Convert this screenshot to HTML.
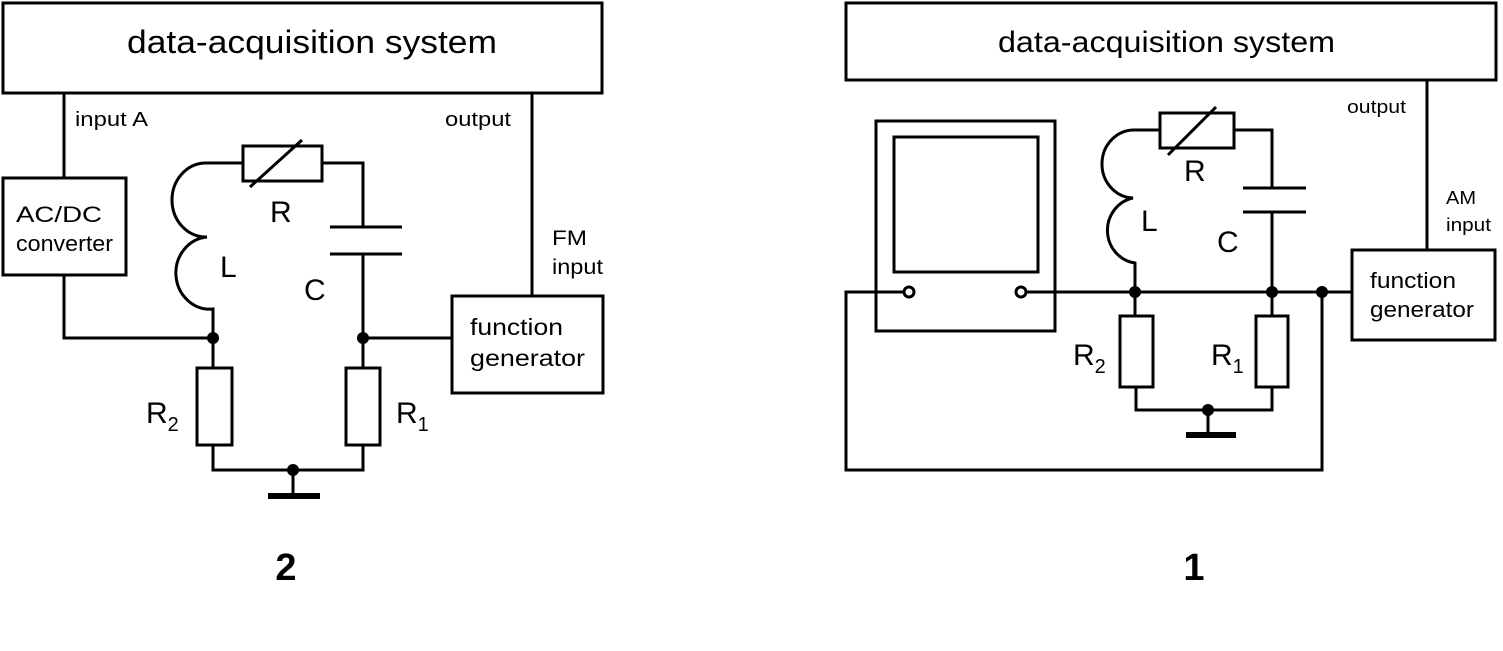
<!DOCTYPE html>
<html><head><style>
html,body{margin:0;padding:0;background:#fff;}
svg{display:block;}
text{font-family:"Liberation Sans",sans-serif;fill:#000;}
</style></head><body>
<svg width="1503" height="651" viewBox="0 0 1503 651" xmlns="http://www.w3.org/2000/svg">
<g fill="none" stroke="#000" stroke-width="3">
<!-- LEFT -->
<rect x="3" y="3" width="599" height="90"/>
<line x1="64" y1="93" x2="64" y2="178"/>
<rect x="3" y="178" width="123" height="97"/>
<polyline points="64,275 64,338 213,338"/>
<path d="M213,338 L213,309 A34,36 0 0 1 207,237 A34,37 0 0 1 205,163 L243,163"/>
<rect x="243" y="146" width="79" height="35"/>
<line x1="250" y1="187" x2="302" y2="140" stroke-width="3"/>
<polyline points="322,163 363,163 363,227"/>
<line x1="330" y1="227" x2="402" y2="227"/>
<line x1="330" y1="254" x2="402" y2="254"/>
<polyline points="363,254 363,338 452,338"/>
<rect x="452" y="296" width="151" height="97"/>
<line x1="532" y1="93" x2="532" y2="296"/>
<line x1="213" y1="338" x2="213" y2="368"/>
<line x1="363" y1="338" x2="363" y2="368"/>
<rect x="197" y="368" width="35" height="77"/>
<rect x="346" y="368" width="34" height="77"/>
<polyline points="213,445 213,470 363,470 363,445"/>
<line x1="293" y1="470" x2="293" y2="494"/>
<line x1="268" y1="496" x2="320" y2="496" stroke-width="6"/>
<!-- RIGHT -->
<rect x="846" y="3" width="650" height="77"/>
<line x1="1427" y1="80" x2="1427" y2="250"/>
<rect x="1352" y="250" width="143" height="90"/>
<rect x="876" y="121" width="179" height="210"/>
<rect x="894" y="137" width="144" height="135"/>
<circle cx="909" cy="292" r="5"/>
<circle cx="1021" cy="292" r="5"/>
<polyline points="904,292 846,292 846,470 1322,470 1322,292"/>
<line x1="1026" y1="292" x2="1352" y2="292"/>
<path d="M1135,292 L1135,263 A32,33 0 0 1 1133,198 A32,34 0 0 1 1135,130 L1160,130"/>
<rect x="1160" y="113" width="74" height="35"/>
<line x1="1168" y1="155" x2="1216" y2="107"/>
<polyline points="1234,130 1272,130 1272,188"/>
<line x1="1243" y1="188" x2="1306" y2="188"/>
<line x1="1243" y1="212" x2="1306" y2="212"/>
<line x1="1272" y1="212" x2="1272" y2="316"/>
<line x1="1135" y1="292" x2="1135" y2="316"/>
<rect x="1120" y="316" width="33" height="71"/>
<rect x="1256" y="316" width="32" height="71"/>
<polyline points="1136,387 1136,410 1272,410 1272,387"/>
<line x1="1208" y1="410" x2="1208" y2="433"/>
<line x1="1186" y1="435" x2="1236" y2="435" stroke-width="6"/>
</g>
<g fill="#000">
<circle cx="213" cy="338" r="6"/><circle cx="363" cy="338" r="6"/><circle cx="293" cy="470" r="6"/>
<circle cx="1135" cy="292" r="6"/><circle cx="1272" cy="292" r="6"/><circle cx="1322" cy="292" r="6"/><circle cx="1208" cy="410" r="6"/>
</g>
<g>
<text x="127" y="53" font-size="32" textLength="370" lengthAdjust="spacingAndGlyphs">data-acquisition system</text>
<text x="75" y="126" font-size="20" textLength="73" lengthAdjust="spacingAndGlyphs">input A</text>
<text x="445" y="126" font-size="20" textLength="66" lengthAdjust="spacingAndGlyphs">output</text>
<text x="16" y="222" font-size="22" textLength="86" lengthAdjust="spacingAndGlyphs">AC/DC</text>
<text x="16" y="251" font-size="22" textLength="97" lengthAdjust="spacingAndGlyphs">converter</text>
<text x="270" y="222" font-size="30">R</text>
<text x="220" y="277" font-size="30" fill="#002">L</text>
<text x="304" y="300" font-size="30">C</text>
<text x="552" y="245" font-size="21" textLength="35" lengthAdjust="spacingAndGlyphs">FM</text>
<text x="552" y="274" font-size="21" textLength="51" lengthAdjust="spacingAndGlyphs">input</text>
<text x="470" y="335" font-size="23" textLength="93" lengthAdjust="spacingAndGlyphs">function</text>
<text x="470" y="366" font-size="23" textLength="115" lengthAdjust="spacingAndGlyphs">generator</text>
<text x="146" y="423" font-size="30">R<tspan font-size="20" dy="8">2</tspan></text>
<text x="396" y="423" font-size="30">R<tspan font-size="20" dy="8">1</tspan></text>
<text x="286" y="580" font-size="38" font-weight="bold" text-anchor="middle">2</text>
<text x="998" y="52" font-size="30" textLength="337" lengthAdjust="spacingAndGlyphs">data-acquisition system</text>
<text x="1347" y="113" font-size="18" textLength="59" lengthAdjust="spacingAndGlyphs">output</text>
<text x="1446" y="204" font-size="18" textLength="30" lengthAdjust="spacingAndGlyphs">AM</text>
<text x="1446" y="231" font-size="18" textLength="45" lengthAdjust="spacingAndGlyphs">input</text>
<text x="1370" y="288" font-size="22" textLength="86" lengthAdjust="spacingAndGlyphs">function</text>
<text x="1370" y="317" font-size="22" textLength="104" lengthAdjust="spacingAndGlyphs">generator</text>
<text x="1184" y="181" font-size="30">R</text>
<text x="1141" y="231" font-size="30">L</text>
<text x="1217" y="252" font-size="30">C</text>
<text x="1073" y="365" font-size="30">R<tspan font-size="20" dy="8">2</tspan></text>
<text x="1211" y="365" font-size="30">R<tspan font-size="20" dy="8">1</tspan></text>
<text x="1194" y="580" font-size="38" font-weight="bold" text-anchor="middle">1</text>
</g>
</svg>
</body></html>
